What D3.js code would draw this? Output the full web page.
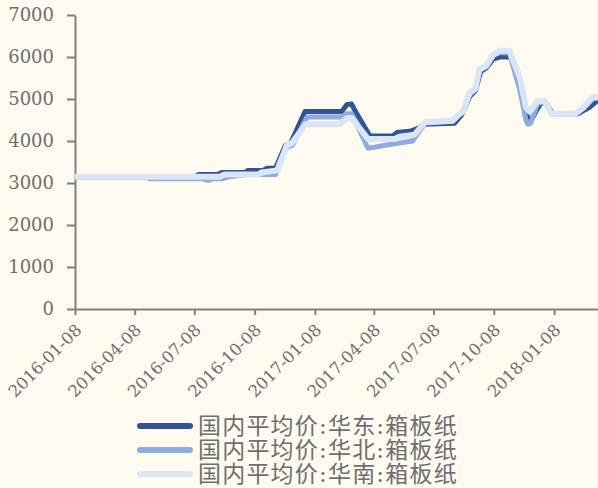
<!DOCTYPE html>
<html>
<head>
<meta charset="utf-8">
<script src="https://cdn.jsdelivr.net/npm/d3@7"></script>
<style>
  body { margin: 0; background: #fffaf0; }
  svg { display: block; }
</style>
</head>
<body>
<div id="chart"></div>
<script>
// weekly price, key points
var seriesNames = ["国内平均价:华东:箱板纸", "国内平均价:华北:箱板纸", "国内平均价:华南:箱板纸"];
var seriesColors = ["#2f5597", "#8faadc", "#dae5f5"];

var eastData = [
  ["2016-01-08",3150],["2016-07-08",3150],["2016-07-15",3200],["2016-08-12",3200],["2016-08-19",3250],
  ["2016-09-23",3250],["2016-09-28",3300],["2016-10-21",3300],["2016-10-27",3350],["2016-11-09",3350],
  ["2016-11-24",3900],["2016-12-02",3950],["2016-12-24",4700],["2017-02-18",4700],["2017-02-26",4870],
  ["2017-03-05",4880],["2017-03-11",4700],["2017-04-02",4120],["2017-05-07",4120],["2017-05-13",4200],
  ["2017-06-02",4230],["2017-06-14",4300],["2017-06-25",4400],["2017-08-09",4420],["2017-08-20",4620],
  ["2017-09-01",5050],["2017-09-10",5200],["2017-09-18",5650],["2017-09-27",5750],["2017-10-07",5950],
  ["2017-10-17",6000],["2017-11-01",6000],["2017-11-06",5900],["2017-11-17",5400],["2017-11-28",4600],
  ["2017-12-03",4450],["2017-12-11",4700],["2017-12-19",4900],["2017-12-26",4920],["2018-01-06",4650],
  ["2018-02-13",4650],["2018-03-03",4800],["2018-03-16",4980]
];
var northData = [
  ["2016-01-08",3150],["2016-04-24",3150],["2016-05-01",3100],["2016-07-21",3100],["2016-07-29",3060],
  ["2016-08-05",3100],["2016-08-19",3100],["2016-08-31",3150],["2016-09-26",3200],["2016-11-09",3200],
  ["2016-11-15",3500],["2016-11-26",3850],["2016-12-05",3900],["2016-12-27",4570],["2017-02-18",4570],
  ["2017-02-26",4650],["2017-03-05",4650],["2017-03-30",3830],["2017-04-09",3850],["2017-04-25",3900],
  ["2017-05-17",3950],["2017-06-06",4000],["2017-06-25",4420],["2017-08-06",4470],["2017-08-17",4630],
  ["2017-08-22",4680],["2017-09-01",5100],["2017-09-10",5230],["2017-09-16",5680],["2017-09-27",5780],
  ["2017-10-07",6050],["2017-10-17",6100],["2017-11-01",6100],["2017-11-06",5800],["2017-11-17",5200],
  ["2017-11-26",4500],["2017-11-29",4400],["2017-12-03",4420],["2017-12-14",4900],["2017-12-25",4920],
  ["2018-01-04",4650],["2018-02-10",4650],["2018-02-22",4780],["2018-03-08",5000],["2018-03-16",5020]
];
var southData = [
  ["2016-01-08",3150],["2016-08-16",3150],["2016-08-23",3200],["2016-10-13",3200],["2016-10-19",3250],
  ["2016-11-12",3300],["2016-11-26",3900],["2016-12-04",3950],["2016-12-25",4400],["2017-02-15",4400],
  ["2017-02-26",4550],["2017-03-05",4550],["2017-03-30",4050],["2017-05-10",4050],["2017-05-17",4100],
  ["2017-06-09",4150],["2017-06-25",4450],["2017-08-06",4480],["2017-08-17",4650],["2017-08-22",4700],
  ["2017-09-01",5150],["2017-09-10",5250],["2017-09-16",5700],["2017-09-27",5800],["2017-10-07",6050],
  ["2017-10-17",6150],["2017-11-01",6150],["2017-11-07",5900],["2017-11-17",5500],["2017-11-26",4800],
  ["2017-12-02",4700],["2017-12-14",4950],["2017-12-25",4950],["2018-01-04",4650],["2018-02-10",4650],
  ["2018-02-22",4800],["2018-03-08",5050],["2018-03-16",5050]
];
var yTicks = [0, 1000, 2000, 3000, 4000, 5000, 6000, 7000];
var xTickDates = ["2016-01-08","2016-04-08","2016-07-08","2016-10-08","2017-01-08",
                  "2017-04-08","2017-07-08","2017-10-08","2018-01-08"];

var width = 598, height = 488;
var margin = {top: 15, right: 0, bottom: 179, left: 75};
var parse = d3.timeParse("%Y-%m-%d");

var svg = d3.select("#chart").append("svg")
    .attr("width", width)
    .attr("height", height);

svg.append("rect").attr("width", width).attr("height", height).style("fill", "#fffaf0");

var x = d3.scaleTime()
    .domain([parse("2016-01-08"), parse("2018-03-16")])
    .range([margin.left, width - margin.right]);
var y = d3.scaleLinear()
    .domain([0, 7000])
    .range([height - margin.bottom, margin.top]);

var axisColor = "#808080";
var labelFont = "'DejaVu Serif', serif";

// y axis
var yAxis = svg.append("g")
    .attr("transform", "translate(" + margin.left + ",0)")
    .call(d3.axisLeft(y).tickValues(yTicks).tickFormat(d3.format("d"))
      .tickSize(8).tickPadding(13).tickSizeOuter(0));
// x axis
var xAxis = svg.append("g")
    .attr("transform", "translate(0," + (height - margin.bottom) + ")")
    .call(d3.axisBottom(x).tickValues(xTickDates.map(parse)).tickSize(6)
      .tickFormat(d3.timeFormat("%Y-%m-%d")).tickSizeOuter(0));

[yAxis, xAxis].forEach(function(a){
  a.select(".domain").style("stroke", axisColor).style("stroke-width", 2);
  a.selectAll(".tick line").style("stroke", axisColor).style("stroke-width", 2);
  a.selectAll("text").style("fill", "#6e6e6e").style("font-family", labelFont).style("font-size", "18px");
});
xAxis.selectAll("text")
    .style("font-size", "16.5px")
    .style("text-anchor", "end")
    .attr("x", 0).attr("y", 0)
    .attr("dy", "0.35em")
    .attr("transform", "translate(3,18) rotate(-45)");

var line = d3.line()
    .x(function(d){ return x(parse(d[0])); })
    .y(function(d){ return y(d[1]); });

[eastData, northData, southData].forEach(function(data, i){
  svg.append("path")
      .datum(data)
      .attr("d", line)
      .style("fill", "none")
      .style("stroke", seriesColors[i])
      .style("stroke-width", i == 2 ? 6 : 5)
      .style("stroke-linejoin", "round");
});

// legend
var legend = svg.selectAll(".legend")
    .data(seriesNames)
  .enter().append("g")
    .attr("class", "legend")
    .attr("transform", function(d, i){ return "translate(137," + (426 + i * 24) + ")"; });
legend.append("line")
    .attr("x1", 3).attr("x2", 53)
    .style("stroke", function(d, i){ return seriesColors[i]; })
    .style("stroke-width", 6)
    .style("stroke-linecap", "round");
legend.append("text")
    .attr("x", 61)
    .attr("dy", "0.36em")
    .style("font-family", "'DejaVu Serif', 'Noto Sans CJK SC', sans-serif")
    .style("font-size", "23px")
    .style("letter-spacing", "1.2px")
    .style("fill", "#6e6e6e")
    .text(function(d){ return d; });
</script>
</body>
</html>
